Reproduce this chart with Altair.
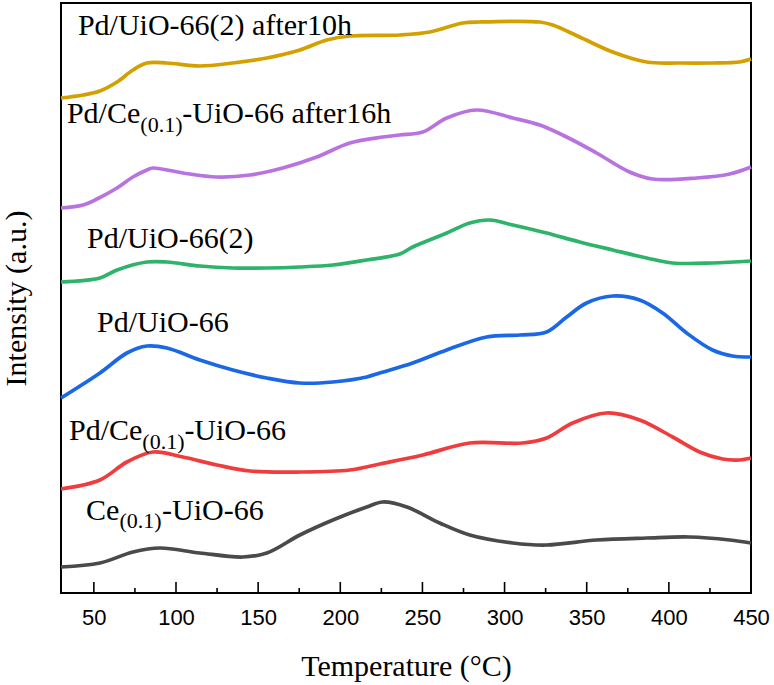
import altair as alt
import pandas as pd

# ---- curve data (temperature in °C, intensity in arbitrary units) ----
series_names = ["Pd/UiO-66(2) after10h", "Pd/Ce(0.1)-UiO-66 after16h", "Pd/UiO-66(2)",
                "Pd/UiO-66", "Pd/Ce(0.1)-UiO-66", "Ce(0.1)-UiO-66"]
series_colors = ["#D4A000", "#B873E0", "#2DB36A", "#1A68E6", "#F03C3C", "#4A4A4A"]

gold_T = [30, 43.4, 53.7, 64.1, 73.8, 82.3, 94.5, 114.5, 134.6, 155.3, 175.4, 191.8, 205.8,
          236.2, 254.5, 274.5, 284.9, 321.4, 329.3, 345.7, 365.8, 386.5, 406.5, 426.6, 443.0, 450]
gold_I = [495, 498, 502, 511, 523, 530, 530, 527, 530, 535, 543, 553, 557,
          558, 561, 570, 571, 571, 568, 556, 541, 531, 530, 530, 531, 534]

purple_T = [30, 43.4, 51.9, 64.1, 73.8, 82.3, 86.0, 104.2, 124.9, 145.0, 165.0, 185.7, 205.8,
            225.9, 236.2, 250.2, 264.8, 283.0, 305.0, 321.4, 337.8, 356.0, 376.1, 390.1, 416.9, 437.0, 450]
purple_I = [385, 388, 394, 405, 416, 423, 425, 420, 416, 418, 425, 436, 450,
            456, 458, 461, 475, 483, 475, 468, 456, 440, 421, 414, 415, 419, 426]

green_T = [30, 53.7, 64.1, 82.3, 94.5, 114.5, 134.6, 155.3, 175.4, 195.5, 216.1, 236.2, 244.1,
           264.8, 278.8, 291.0, 305.0, 325.6, 345.7, 365.8, 386.5, 402.3, 426.6, 450]
green_I = [311, 315, 323, 331, 331, 327, 325, 325, 326, 328, 333, 339, 346,
           360, 370, 373, 368, 360, 351, 343, 335, 330, 330, 332]

blue_T = [30, 53.7, 70.1, 82.3, 94.5, 114.5, 134.6, 155.3, 175.4, 195.5, 216.1, 224.0, 244.1,
          264.8, 289.1, 309.2, 325.6, 337.8, 349.9, 365.8, 382.2, 396.2, 410.8, 426.6, 438.8, 450]
blue_I = [195, 220, 240, 247, 245, 233, 223, 215, 210, 211, 216, 220, 230,
          243, 256, 258, 261, 276, 290, 297, 293, 280, 260, 243, 237, 236]

red_T = [30, 53.7, 70.1, 86.0, 104.2, 124.9, 145.0, 175.4, 205.8, 224.0, 250.2, 278.8, 311.0,
         325.6, 341.4, 362.1, 382.2, 402.3, 418.7, 432.7, 443.0, 450]
red_I = [104, 113, 131, 141, 136, 128, 122, 121, 123, 129, 138, 150, 150,
         155, 170, 180, 173, 156, 141, 134, 133, 135]

grey_T = [30, 53.7, 73.8, 90.2, 114.5, 140.7, 155.3, 175.4, 195.5, 216.1, 225.9, 240.5, 260.5,
          278.8, 305.0, 325.6, 356.0, 386.5, 412.6, 437.0, 450]
grey_I = [26, 30, 41, 45, 40, 36, 40, 58, 73, 86, 91, 86, 70,
          58, 50, 48, 53, 55, 56, 53, 50]

all_T = [gold_T, purple_T, green_T, blue_T, red_T, grey_T]
all_I = [gold_I, purple_I, green_I, blue_I, red_I, grey_I]

# ---- labels (segments: normal text and subscripts) ----
main_text = ["Pd/UiO-66(2) after10h", "Pd/Ce", "-UiO-66 after16h", "Pd/UiO-66(2)",
             "Pd/UiO-66", "Pd/Ce", "-UiO-66", "Ce", "-UiO-66"]
main_T = [40.3, 33.6, 103.8, 45.8, 51.9, 34.9, 105.1, 45.2, 91.5]
main_I = [558, 470, 470, 345, 261, 153, 153, 73, 73]

sub_text = ["(0.1)", "(0.1)", "(0.1)"]
sub_T = [78.3, 79.5, 65.6]
sub_I = [461, 144, 65]

major_ticks = [50, 100, 150, 200, 250, 300, 350, 400, 450]
minor_ticks = [75, 125, 175, 225, 275, 325, 375, 425]

rows = []
for name, ts, vs in zip(series_names, all_T, all_I):
    for t, v in zip(ts, vs):
        rows.append({"series": name, "T": t, "I": v})
df = pd.DataFrame(rows)

main_df = pd.DataFrame({"text": main_text, "T": main_T, "I": main_I})
sub_df = pd.DataFrame({"text": sub_text, "T": sub_T, "I": sub_I})
major_df = pd.DataFrame({"T": major_ticks})
minor_df = pd.DataFrame({"T": minor_ticks})

W, H = 690, 590
xs = alt.Scale(domain=[30, 450], nice=False, zero=False)
ys = alt.Scale(domain=[0, 590], nice=False, zero=False)

x_axis = alt.Axis(values=major_ticks, ticks=False, domain=False, grid=False,
                  labelFlush=False, labelOverlap=False,
                  labelFont="Liberation Sans", labelFontSize=22, labelColor="black",
                  labelPadding=14, title="Temperature (°C)", titleFont="Liberation Serif",
                  titleFontSize=30, titleFontWeight="normal", titleColor="black",
                  titlePadding=23)
y_axis = alt.Axis(labels=False, ticks=False, domain=False, grid=False,
                  title="Intensity (a.u.)", titleFont="Liberation Serif", titleFontSize=30,
                  titleFontWeight="normal", titleColor="black", titlePadding=30)

lines = alt.Chart(df).mark_line(strokeWidth=3.7, interpolate="catmull-rom").encode(
    x=alt.X("T:Q", scale=xs, axis=x_axis),
    y=alt.Y("I:Q", scale=ys, axis=y_axis),
    color=alt.Color("series:N", scale=alt.Scale(domain=series_names, range=series_colors),
                    legend=None),
)

main_labels = alt.Chart(main_df).mark_text(
    font="Liberation Serif", fontSize=30, align="left", baseline="alphabetic", color="black"
).encode(x=alt.X("T:Q", scale=xs), y=alt.Y("I:Q", scale=ys), text="text:N")

sub_labels = alt.Chart(sub_df).mark_text(
    font="Liberation Serif", fontSize=22, align="left", baseline="alphabetic", color="black"
).encode(x=alt.X("T:Q", scale=xs), y=alt.Y("I:Q", scale=ys), text="text:N")

major_rules = alt.Chart(major_df).mark_rule(color="black", strokeWidth=1.6).encode(
    x=alt.X("T:Q", scale=xs), y=alt.value(H), y2=alt.value(H - 11))
minor_rules = alt.Chart(minor_df).mark_rule(color="black", strokeWidth=1.6).encode(
    x=alt.X("T:Q", scale=xs), y=alt.value(H), y2=alt.value(H - 5))

chart = alt.layer(lines, main_labels, sub_labels, major_rules, minor_rules).properties(
    width=W, height=H,
    autosize=alt.AutoSizeParams(type="none"),
    padding={"left": 61, "top": 3, "right": 23, "bottom": 92},
    background="white",
).configure_view(stroke="black", strokeWidth=2)

chart.save("out.html", embed_options={"renderer": "svg", "actions": False})
